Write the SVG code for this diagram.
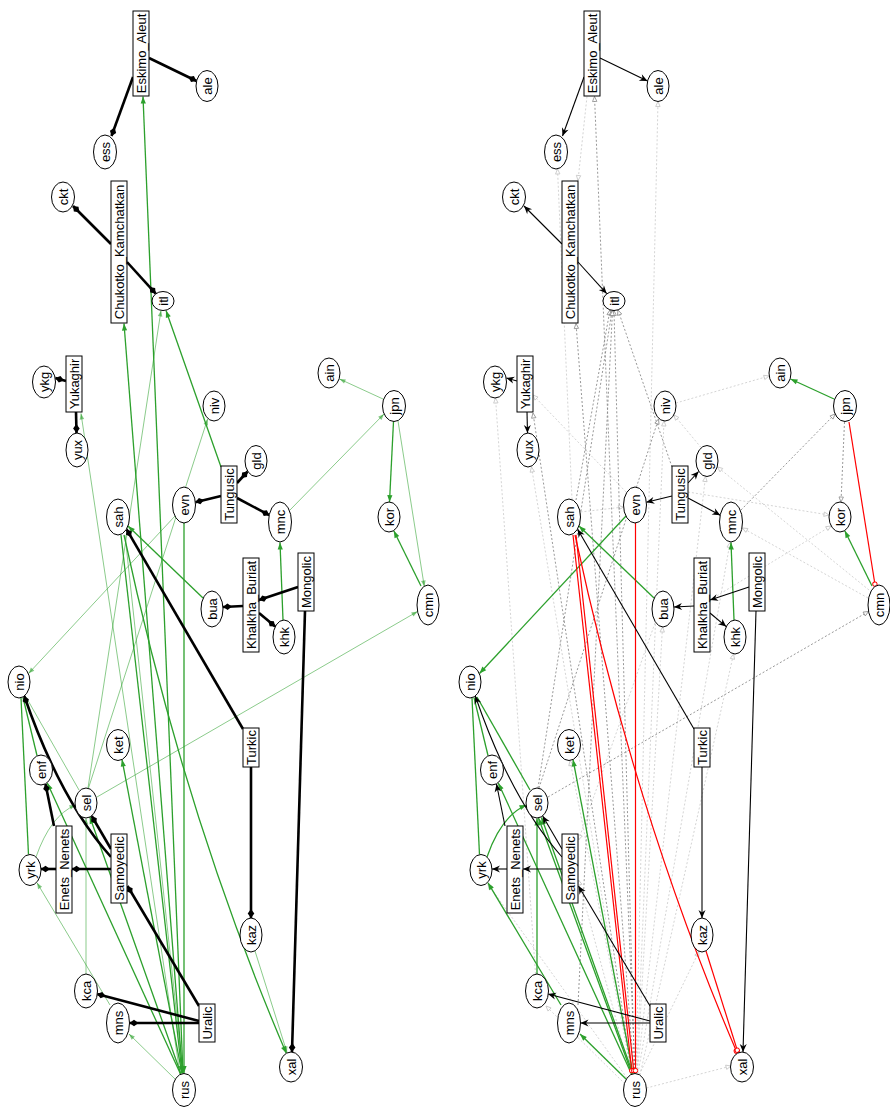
<svg xmlns="http://www.w3.org/2000/svg" width="890" height="1108" viewBox="0 0 890 1108">
<style>
.n ellipse,.n rect{fill:#fff;stroke:#000;stroke-width:1}
.n text{font-family:"Liberation Sans",Arial,Helvetica,sans-serif;font-size:13px;text-anchor:middle;fill:#000}
.e path{fill:none}
.tk{stroke:#000;stroke-width:2.6;marker-end:url(#dia)}
.tn{stroke:#000;stroke-width:1.1;marker-end:url(#vee)}
.gd{stroke:#2ca02c;stroke-width:1.3;marker-end:url(#ga)}
.gl{stroke:#2ca02c;stroke-opacity:.55;stroke-width:1;marker-end:url(#gal)}
.gn{stroke:#2ca02c;stroke-width:1.3}
.gln{stroke:#2ca02c;stroke-opacity:.55;stroke-width:1}
.rd{stroke:#f00;stroke-width:1.2;marker-end:url(#rc)}
.dd{stroke:#8c8c8c;stroke-width:.9;stroke-dasharray:2 2;marker-end:url(#tdd)}
.dl{stroke:#cfcfcf;stroke-width:.9;stroke-dasharray:2 2;marker-end:url(#tdl)}
</style>
<defs>
<marker id="dia" markerUnits="userSpaceOnUse" orient="auto" overflow="visible" markerWidth="1" markerHeight="1"><path d="M0,0 L-4.5,-3.3 L-9,0 L-4.5,3.3 Z" fill="#000"/></marker>
<marker id="vee" markerUnits="userSpaceOnUse" orient="auto" overflow="visible" markerWidth="1" markerHeight="1"><path d="M0,0 L-8,-3.5 L-5.5,0 L-8,3.5 Z" fill="#000"/></marker>
<marker id="ga" markerUnits="userSpaceOnUse" orient="auto" overflow="visible" markerWidth="1" markerHeight="1"><path d="M0,0 L-7,-2.6 L-7,2.6 Z" fill="#2ca02c"/></marker>
<marker id="gal" markerUnits="userSpaceOnUse" orient="auto" overflow="visible" markerWidth="1" markerHeight="1"><path d="M0,0 L-6,-2.3 L-6,2.3 Z" fill="#2ca02c" fill-opacity=".6"/></marker>
<marker id="rc" markerUnits="userSpaceOnUse" orient="auto" overflow="visible" markerWidth="1" markerHeight="1"><circle cx="-2.4" cy="0" r="2.2" fill="#fff" stroke="#f00" stroke-width="1"/></marker>
<marker id="tdd" markerUnits="userSpaceOnUse" orient="auto" overflow="visible" markerWidth="1" markerHeight="1"><path d="M0,0 L-5,-2.2 L-5,2.2 Z" fill="#fff" stroke="#8c8c8c" stroke-width=".8"/></marker>
<marker id="tdl" markerUnits="userSpaceOnUse" orient="auto" overflow="visible" markerWidth="1" markerHeight="1"><path d="M0,0 L-5,-2.2 L-5,2.2 Z" fill="#fff" stroke="#c4c4c4" stroke-width=".8"/></marker>
</defs>

<g id="left-panel">
<g id="left-connectors" class="e">
<path class="gd" d="M183,1073.5 L143,96.5"/>
<path class="gd" d="M182.5,1073.5 L124,323.5"/>
<path class="gd" d="M221,467 L166,310.5"/>
<path class="gd" d="M121,535 L182,1073"/>
<path class="gd" d="M184,523 L184,1073"/>
<path class="gd" d="M203,598 L128,526"/>
<path class="gd" d="M283,620 L280,542.5"/>
<path class="gd" d="M393.5,421.5 L389.5,502"/>
<path class="gd" d="M421,586 L393.8,530.8"/>
<path class="gd" d="M182,1073.5 L122,759.5"/>
<path class="gd" d="M181,1074 L89.8,816.8"/>
<path class="gd" d="M180.5,1074 L47.3,783"/>
<path class="gn" d="M21,698 L28.5,854.5"/>
<path class="gn" d="M23,697.5 L37,755.5"/>
<path class="gd" d="M124,535 Q184.5,816 286.3,1053.3"/>
<path class="gl" d="M125,535 L183,1073"/>
<path class="gl" d="M88,788 L161,310.5"/>
<path class="gl" d="M88.5,788 L207.6,419"/>
<path class="gl" d="M180,1074 L81,413.5"/>
<path class="gl" d="M175,516 L28.5,673.5"/>
<path class="gl" d="M97,797 L417.5,611.5"/>
<path class="gl" d="M290,510 L384,414"/>
<path class="gl" d="M383,399 L339.5,379"/>
<path class="gl" d="M398,421 L424.3,586.5"/>
<path class="gl" d="M255,951 L287,1052.5"/>
<path class="gl" d="M175,1079 L129,1034"/>
<path class="gl" d="M110,1005 L37,882.8"/>
<path class="gl" d="M86,974 L86,818.5"/>
<path class="gl" d="M36,857 Q50.5,815.5 75.5,805"/>
<path class="gln" d="M26,697 L79,790"/>
<path class="tk" d="M149,58 L196.5,81"/>
<path class="tk" d="M133,77 L111.5,136"/>
<path class="tk" d="M111,244 L73,206"/>
<path class="tk" d="M127,262 L155.7,293.6"/>
<path class="tk" d="M66,381 L55.3,378"/>
<path class="tk" d="M76,412 L76.5,433"/>
<path class="tk" d="M221,496 L195.3,502.2"/>
<path class="tk" d="M237,483 L247.6,471.5"/>
<path class="tk" d="M237,498 L269.3,515.2"/>
<path class="tk" d="M298,587 L259,600"/>
<path class="tk" d="M243,606 L223,607"/>
<path class="tk" d="M259,613 L275.2,626.6"/>
<path class="tk" d="M305,611 L292,1052"/>
<path class="tk" d="M251,767 L251,918"/>
<path class="tk" d="M243,729 L126.6,529.3"/>
<path class="tk" d="M111,857 Q60,800 24.3,696"/>
<path class="tk" d="M111,849 L91.7,816"/>
<path class="tk" d="M111,869 L72,869"/>
<path class="tk" d="M56,869 L41,869"/>
<path class="tk" d="M54,826 L45.5,784"/>
<path class="tk" d="M199,1006 L127.5,886"/>
<path class="tk" d="M199,1021 L97,994"/>
<path class="tk" d="M199,1023 L129.5,1023"/>
</g>
<g id="L_EA" class="n"><rect x="133" y="11" width="16" height="85"/><text transform="translate(141,53.5) rotate(-90)" dy=".35em">Eskimo_Aleut</text></g>
<g id="L_CK" class="n"><rect x="111" y="181" width="16" height="142"/><text transform="translate(119,252) rotate(-90)" dy=".35em">Chukotko_Kamchatkan</text></g>
<g id="L_Yukaghir" class="n"><rect x="66" y="356" width="16" height="56"/><text transform="translate(74,384) rotate(-90)" dy=".35em">Yukaghir</text></g>
<g id="L_Tungusic" class="n"><rect x="221" y="466" width="16" height="57"/><text transform="translate(229,494.5) rotate(-90)" dy=".35em">Tungusic</text></g>
<g id="L_KB" class="n"><rect x="243" y="558" width="16" height="94"/><text transform="translate(251,605) rotate(-90)" dy=".35em">Khalkha_Buriat</text></g>
<g id="L_Mongolic" class="n"><rect x="298" y="553" width="16" height="58"/><text transform="translate(306,582) rotate(-90)" dy=".35em">Mongolic</text></g>
<g id="L_Turkic" class="n"><rect x="243" y="728" width="16" height="39"/><text transform="translate(251,747.5) rotate(-90)" dy=".35em">Turkic</text></g>
<g id="L_EN" class="n"><rect x="56" y="826" width="16" height="87"/><text transform="translate(64,869.5) rotate(-90)" dy=".35em">Enets_Nenets</text></g>
<g id="L_Samoyedic" class="n"><rect x="111" y="834" width="16" height="69"/><text transform="translate(119,868.5) rotate(-90)" dy=".35em">Samoyedic</text></g>
<g id="L_Uralic" class="n"><rect x="199" y="1004" width="16" height="38"/><text transform="translate(207,1023) rotate(-90)" dy=".35em">Uralic</text></g>
<g id="L_ale" class="n"><ellipse cx="207" cy="86" rx="11" ry="15.5"/><text transform="translate(207,86) rotate(-90)" dy=".35em">ale</text></g>
<g id="L_ess" class="n"><ellipse cx="105" cy="152" rx="11.5" ry="17"/><text transform="translate(105,152) rotate(-90)" dy=".35em">ess</text></g>
<g id="L_ckt" class="n"><ellipse cx="63" cy="197" rx="11.5" ry="15"/><text transform="translate(63,197) rotate(-90)" dy=".35em">ckt</text></g>
<g id="L_itl" class="n"><ellipse cx="163" cy="301" rx="11" ry="9.5"/><text transform="translate(163,301) rotate(-90)" dy=".35em">itl</text></g>
<g id="L_ykg" class="n"><ellipse cx="44" cy="382" rx="11.5" ry="16"/><text transform="translate(44,382) rotate(-90)" dy=".35em">ykg</text></g>
<g id="L_yux" class="n"><ellipse cx="77" cy="450" rx="11" ry="17"/><text transform="translate(77,450) rotate(-90)" dy=".35em">yux</text></g>
<g id="L_niv" class="n"><ellipse cx="214" cy="406" rx="11" ry="15"/><text transform="translate(214,406) rotate(-90)" dy=".35em">niv</text></g>
<g id="L_sah" class="n"><ellipse cx="118" cy="517" rx="11.5" ry="18"/><text transform="translate(118,517) rotate(-90)" dy=".35em">sah</text></g>
<g id="L_evn" class="n"><ellipse cx="184" cy="505" rx="11.5" ry="18"/><text transform="translate(184,505) rotate(-90)" dy=".35em">evn</text></g>
<g id="L_gld" class="n"><ellipse cx="256" cy="461" rx="11" ry="15.5"/><text transform="translate(256,461) rotate(-90)" dy=".35em">gld</text></g>
<g id="L_mnc" class="n"><ellipse cx="280" cy="522" rx="11.5" ry="20"/><text transform="translate(280,522) rotate(-90)" dy=".35em">mnc</text></g>
<g id="L_ain" class="n"><ellipse cx="329" cy="373" rx="11" ry="15"/><text transform="translate(329,373) rotate(-90)" dy=".35em">ain</text></g>
<g id="L_jpn" class="n"><ellipse cx="394" cy="406" rx="11.5" ry="15.5"/><text transform="translate(394,406) rotate(-90)" dy=".35em">jpn</text></g>
<g id="L_kor" class="n"><ellipse cx="389" cy="517" rx="11" ry="15"/><text transform="translate(389,517) rotate(-90)" dy=".35em">kor</text></g>
<g id="L_cmn" class="n"><ellipse cx="428" cy="605" rx="11" ry="20"/><text transform="translate(428,605) rotate(-90)" dy=".35em">cmn</text></g>
<g id="L_bua" class="n"><ellipse cx="212" cy="609" rx="11" ry="18"/><text transform="translate(212,609) rotate(-90)" dy=".35em">bua</text></g>
<g id="L_khk" class="n"><ellipse cx="284" cy="637" rx="11" ry="17"/><text transform="translate(284,637) rotate(-90)" dy=".35em">khk</text></g>
<g id="L_nio" class="n"><ellipse cx="19" cy="682" rx="11" ry="16"/><text transform="translate(19,682) rotate(-90)" dy=".35em">nio</text></g>
<g id="L_ket" class="n"><ellipse cx="118" cy="745" rx="11.5" ry="15.5"/><text transform="translate(118,745) rotate(-90)" dy=".35em">ket</text></g>
<g id="L_enf" class="n"><ellipse cx="41" cy="770" rx="11.5" ry="15"/><text transform="translate(41,770) rotate(-90)" dy=".35em">enf</text></g>
<g id="L_sel" class="n"><ellipse cx="86" cy="803" rx="11" ry="15"/><text transform="translate(86,803) rotate(-90)" dy=".35em">sel</text></g>
<g id="L_yrk" class="n"><ellipse cx="30" cy="870" rx="11" ry="15.5"/><text transform="translate(30,870) rotate(-90)" dy=".35em">yrk</text></g>
<g id="L_kaz" class="n"><ellipse cx="251" cy="935" rx="11" ry="17"/><text transform="translate(251,935) rotate(-90)" dy=".35em">kaz</text></g>
<g id="L_kca" class="n"><ellipse cx="86" cy="991" rx="11.5" ry="17"/><text transform="translate(86,991) rotate(-90)" dy=".35em">kca</text></g>
<g id="L_mns" class="n"><ellipse cx="118" cy="1023" rx="11.5" ry="20"/><text transform="translate(118,1023) rotate(-90)" dy=".35em">mns</text></g>
<g id="L_rus" class="n"><ellipse cx="184" cy="1090" rx="11.5" ry="16.5"/><text transform="translate(184,1090) rotate(-90)" dy=".35em">rus</text></g>
<g id="L_xal" class="n"><ellipse cx="291" cy="1067" rx="11.5" ry="15"/><text transform="translate(291,1067) rotate(-90)" dy=".35em">xal</text></g>
</g>

<g id="right-panel" transform="translate(451,0)">
<g id="right-connectors" class="e">
<path class="dl" d="M136,96.5 L127,180.5"/>
<path class="dl" d="M121,499.5 L106.5,169"/>
<path class="dl" d="M185,1073 L207,101.5"/>
<path class="dl" d="M84.5,974 L44.5,398"/>
<path class="dl" d="M175,492 L82,395"/>
<path class="dl" d="M180,1073.5 L80.5,467"/>
<path class="dl" d="M250,447.5 L223,415"/>
<path class="dl" d="M225,403 L318,376"/>
<path class="dl" d="M418,590 L266.5,467"/>
<path class="dl" d="M417,598 L291.5,528"/>
<path class="dl" d="M237,492 L378,515"/>
<path class="dl" d="M259,600 L380,526"/>
<path class="dl" d="M129.5,512 L172.5,507"/>
<path class="dl" d="M195.5,1088 L280,1066"/>
<path class="dl" d="M189,1075 L282.5,654"/>
<path class="dl" d="M188,1075 L248,951.5"/>
<path class="dl" d="M186,1073.5 L211.5,627"/>
<path class="dl" d="M186,1073.5 L254.5,476.5"/>
<path class="dl" d="M185.5,1073.5 L213,421"/>
<path class="dl" d="M180,1075 L127.5,880"/>
<path class="dl" d="M204,623 L127.5,840"/>
<path class="dl" d="M174,1084 L95,1006"/>
<path class="dl" d="M187,1073.5 L279,542.5"/>
<path class="dl" d="M181,1073.5 L119,760.5"/>
<path class="dl" d="M176,1078 L37,884"/>
<path class="dd" d="M184,1073 L143.5,96.5"/>
<path class="dd" d="M183,1073 L125,323.5"/>
<path class="dd" d="M183.5,1073 L163,310.5"/>
<path class="dd" d="M125,500 L159,310"/>
<path class="dd" d="M221,467 L167,310"/>
<path class="dd" d="M88,788 L207.5,419"/>
<path class="dd" d="M87,788 L161,310.5"/>
<path class="dd" d="M127,1005 L161.5,310.5"/>
<path class="dd" d="M181,1074 L82,413"/>
<path class="dd" d="M290,510 L384,414"/>
<path class="dd" d="M393.5,422 L390,502"/>
<path class="dd" d="M97,797 L417.5,611.5"/>
<path class="gd" d="M383,399 L339.5,379"/>
<path class="gd" d="M421,586 L393.8,530.8"/>
<path class="gd" d="M283,620 L280,542.5"/>
<path class="gd" d="M203,598 L128,526"/>
<path class="gd" d="M175,516 L28.5,673.5"/>
<path class="gd" d="M182,1073.5 L122,759.5"/>
<path class="gd" d="M175,1079 L129,1034"/>
<path class="gd" d="M181,1074 L87.5,818"/>
<path class="gd" d="M182,1074 L90.5,817.5"/>
<path class="gd" d="M180.5,1074 L47.3,783"/>
<path class="gd" d="M110,1005 L37,882.8"/>
<path class="gn" d="M21,698 L28.5,854.5"/>
<path class="gn" d="M23,697.5 L37,755.5"/>
<path class="gn" d="M26,697 L79,790"/>
<path class="gd" d="M36,857 Q50.5,815.5 75.5,805"/>
<path class="gd" d="M86,974 L86,818.5"/>
<path class="rd" d="M122,535 L181,1073"/>
<path class="rd" d="M125,535 L183,1073"/>
<path class="rd" d="M124,535 Q184.5,816 286.3,1053.3"/>
<path class="rd" d="M184.5,523 L184.5,1073"/>
<path class="rd" d="M255,951 L287,1052.5"/>
<path class="rd" d="M398,422 L424.3,586.5"/>
<path class="tn" d="M149,58 L196.5,81"/>
<path class="tn" d="M133,77 L111.5,136"/>
<path class="tn" d="M111,244 L73,206"/>
<path class="tn" d="M127,262 L155.7,293.6"/>
<path class="tn" d="M66,381 L55.3,378"/>
<path class="tn" d="M76,412 L76.5,433"/>
<path class="tn" d="M221,496 L195.3,502.2"/>
<path class="tn" d="M237,483 L247.6,471.5"/>
<path class="tn" d="M237,498 L269.3,515.2"/>
<path class="tn" d="M298,587 L259,600"/>
<path class="tn" d="M243,606 L223,607"/>
<path class="tn" d="M259,613 L275.2,626.6"/>
<path class="tn" d="M305,611 L292,1052"/>
<path class="tn" d="M251,767 L251,918"/>
<path class="tn" d="M243,729 L126.6,529.3"/>
<path class="tn" d="M111,857 Q60,800 24.3,696"/>
<path class="tn" d="M111,849 L91.7,816"/>
<path class="tn" d="M111,869 L72,869"/>
<path class="tn" d="M56,869 L41,869"/>
<path class="tn" d="M54,826 L45.5,784"/>
<path class="tn" d="M199,1006 L127.5,886"/>
<path class="tn" d="M199,1021 L97,994"/>
<path class="tn" d="M199,1023 L129.5,1023"/>
</g>
<g id="R_EA" class="n"><rect x="133" y="11" width="16" height="85"/><text transform="translate(141,53.5) rotate(-90)" dy=".35em">Eskimo_Aleut</text></g>
<g id="R_CK" class="n"><rect x="111" y="181" width="16" height="142"/><text transform="translate(119,252) rotate(-90)" dy=".35em">Chukotko_Kamchatkan</text></g>
<g id="R_Yukaghir" class="n"><rect x="66" y="356" width="16" height="56"/><text transform="translate(74,384) rotate(-90)" dy=".35em">Yukaghir</text></g>
<g id="R_Tungusic" class="n"><rect x="221" y="466" width="16" height="57"/><text transform="translate(229,494.5) rotate(-90)" dy=".35em">Tungusic</text></g>
<g id="R_KB" class="n"><rect x="243" y="558" width="16" height="94"/><text transform="translate(251,605) rotate(-90)" dy=".35em">Khalkha_Buriat</text></g>
<g id="R_Mongolic" class="n"><rect x="298" y="553" width="16" height="58"/><text transform="translate(306,582) rotate(-90)" dy=".35em">Mongolic</text></g>
<g id="R_Turkic" class="n"><rect x="243" y="728" width="16" height="39"/><text transform="translate(251,747.5) rotate(-90)" dy=".35em">Turkic</text></g>
<g id="R_EN" class="n"><rect x="56" y="826" width="16" height="87"/><text transform="translate(64,869.5) rotate(-90)" dy=".35em">Enets_Nenets</text></g>
<g id="R_Samoyedic" class="n"><rect x="111" y="834" width="16" height="69"/><text transform="translate(119,868.5) rotate(-90)" dy=".35em">Samoyedic</text></g>
<g id="R_Uralic" class="n"><rect x="199" y="1004" width="16" height="38"/><text transform="translate(207,1023) rotate(-90)" dy=".35em">Uralic</text></g>
<g id="R_ale" class="n"><ellipse cx="207" cy="86" rx="11" ry="15.5"/><text transform="translate(207,86) rotate(-90)" dy=".35em">ale</text></g>
<g id="R_ess" class="n"><ellipse cx="105" cy="152" rx="11.5" ry="17"/><text transform="translate(105,152) rotate(-90)" dy=".35em">ess</text></g>
<g id="R_ckt" class="n"><ellipse cx="63" cy="197" rx="11.5" ry="15"/><text transform="translate(63,197) rotate(-90)" dy=".35em">ckt</text></g>
<g id="R_itl" class="n"><ellipse cx="163" cy="301" rx="11" ry="9.5"/><text transform="translate(163,301) rotate(-90)" dy=".35em">itl</text></g>
<g id="R_ykg" class="n"><ellipse cx="44" cy="382" rx="11.5" ry="16"/><text transform="translate(44,382) rotate(-90)" dy=".35em">ykg</text></g>
<g id="R_yux" class="n"><ellipse cx="77" cy="450" rx="11" ry="17"/><text transform="translate(77,450) rotate(-90)" dy=".35em">yux</text></g>
<g id="R_niv" class="n"><ellipse cx="214" cy="406" rx="11" ry="15"/><text transform="translate(214,406) rotate(-90)" dy=".35em">niv</text></g>
<g id="R_sah" class="n"><ellipse cx="118" cy="517" rx="11.5" ry="18"/><text transform="translate(118,517) rotate(-90)" dy=".35em">sah</text></g>
<g id="R_evn" class="n"><ellipse cx="184" cy="505" rx="11.5" ry="18"/><text transform="translate(184,505) rotate(-90)" dy=".35em">evn</text></g>
<g id="R_gld" class="n"><ellipse cx="256" cy="461" rx="11" ry="15.5"/><text transform="translate(256,461) rotate(-90)" dy=".35em">gld</text></g>
<g id="R_mnc" class="n"><ellipse cx="280" cy="522" rx="11.5" ry="20"/><text transform="translate(280,522) rotate(-90)" dy=".35em">mnc</text></g>
<g id="R_ain" class="n"><ellipse cx="329" cy="373" rx="11" ry="15"/><text transform="translate(329,373) rotate(-90)" dy=".35em">ain</text></g>
<g id="R_jpn" class="n"><ellipse cx="394" cy="406" rx="11.5" ry="15.5"/><text transform="translate(394,406) rotate(-90)" dy=".35em">jpn</text></g>
<g id="R_kor" class="n"><ellipse cx="389" cy="517" rx="11" ry="15"/><text transform="translate(389,517) rotate(-90)" dy=".35em">kor</text></g>
<g id="R_cmn" class="n"><ellipse cx="428" cy="605" rx="11" ry="20"/><text transform="translate(428,605) rotate(-90)" dy=".35em">cmn</text></g>
<g id="R_bua" class="n"><ellipse cx="212" cy="609" rx="11" ry="18"/><text transform="translate(212,609) rotate(-90)" dy=".35em">bua</text></g>
<g id="R_khk" class="n"><ellipse cx="284" cy="637" rx="11" ry="17"/><text transform="translate(284,637) rotate(-90)" dy=".35em">khk</text></g>
<g id="R_nio" class="n"><ellipse cx="19" cy="682" rx="11" ry="16"/><text transform="translate(19,682) rotate(-90)" dy=".35em">nio</text></g>
<g id="R_ket" class="n"><ellipse cx="118" cy="745" rx="11.5" ry="15.5"/><text transform="translate(118,745) rotate(-90)" dy=".35em">ket</text></g>
<g id="R_enf" class="n"><ellipse cx="41" cy="770" rx="11.5" ry="15"/><text transform="translate(41,770) rotate(-90)" dy=".35em">enf</text></g>
<g id="R_sel" class="n"><ellipse cx="86" cy="803" rx="11" ry="15"/><text transform="translate(86,803) rotate(-90)" dy=".35em">sel</text></g>
<g id="R_yrk" class="n"><ellipse cx="30" cy="870" rx="11" ry="15.5"/><text transform="translate(30,870) rotate(-90)" dy=".35em">yrk</text></g>
<g id="R_kaz" class="n"><ellipse cx="251" cy="935" rx="11" ry="17"/><text transform="translate(251,935) rotate(-90)" dy=".35em">kaz</text></g>
<g id="R_kca" class="n"><ellipse cx="86" cy="991" rx="11.5" ry="17"/><text transform="translate(86,991) rotate(-90)" dy=".35em">kca</text></g>
<g id="R_mns" class="n"><ellipse cx="118" cy="1023" rx="11.5" ry="20"/><text transform="translate(118,1023) rotate(-90)" dy=".35em">mns</text></g>
<g id="R_rus" class="n"><ellipse cx="184" cy="1090" rx="11.5" ry="16.5"/><text transform="translate(184,1090) rotate(-90)" dy=".35em">rus</text></g>
<g id="R_xal" class="n"><ellipse cx="291" cy="1067" rx="11.5" ry="15"/><text transform="translate(291,1067) rotate(-90)" dy=".35em">xal</text></g>
</g>
</svg>
